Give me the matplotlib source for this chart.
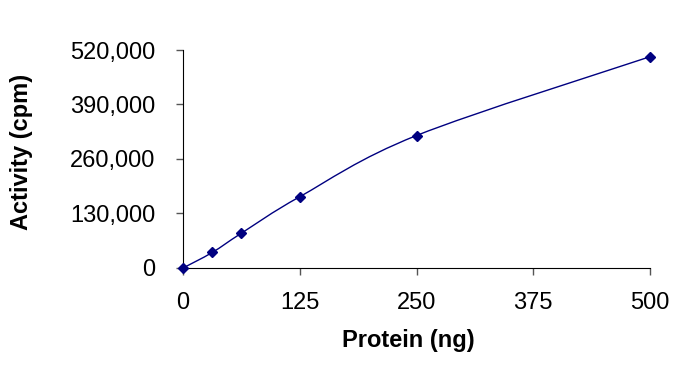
import matplotlib
matplotlib.use("Agg")
import matplotlib.pyplot as plt
import numpy as np
from matplotlib.path import Path
from matplotlib.patches import PathPatch
from matplotlib.ticker import FuncFormatter

plt.rcParams['font.family'] = ['Liberation Sans', 'DejaVu Sans']
plt.rcParams['font.size'] = 17

protein = [0, 31.25, 62.5, 125, 250, 500]
activity = [0, 37000, 83000, 170000, 316000, 504000]
xticks = [0, 125, 250, 375, 500]
yticks = [0, 130000, 260000, 390000, 520000]

navy = '#000080'

fig = plt.figure(figsize=(6.92, 3.65), dpi=100)
ax = fig.add_axes([0.2645, 0.2658, 0.6748, 0.5972])
ax.set_xlim(0, 500)
ax.set_ylim(0, 520000)

# smooth line through the points (Excel style bezier, built in pixel space)
pts = ax.transData.transform(np.column_stack([protein, activity]))
n = len(pts)
verts = [pts[0]]
codes = [Path.MOVETO]
for i in range(n - 1):
    p0 = pts[max(i - 1, 0)]
    p1 = pts[i]
    p2 = pts[i + 1]
    p3 = pts[min(i + 2, n - 1)]
    verts += [p1 + (p2 - p0) / 6, p2 - (p3 - p1) / 6, p2]
    codes += [Path.CURVE4] * 3
data_verts = ax.transData.inverted().transform(np.array(verts))
ax.add_patch(PathPatch(Path(data_verts, codes), facecolor='none',
                       edgecolor=navy, lw=1, clip_on=False))

ax.plot(protein, activity, linestyle='none', marker='D', markersize=5,
        color=navy, clip_on=False, zorder=3)

ax.set_xticks(xticks)
ax.set_yticks(yticks)
ax.yaxis.set_major_formatter(FuncFormatter(lambda v, p: f'{int(v):,}'))
ax.spines['top'].set_visible(False)
ax.spines['right'].set_visible(False)
ax.tick_params(direction='out', length=5, width=1, color='#555555')
ax.tick_params(axis='y', pad=15)
ax.tick_params(axis='x', pad=12)

ax.set_xlabel('Protein (ng)', fontweight='bold', fontsize=17)
ax.set_ylabel('Activity (cpm)', fontweight='bold', fontsize=17)
ax.xaxis.set_label_coords(0.483, -0.28)
ax.yaxis.set_label_coords(-0.321, 0.532)

fig.savefig('out.png', dpi=100)
